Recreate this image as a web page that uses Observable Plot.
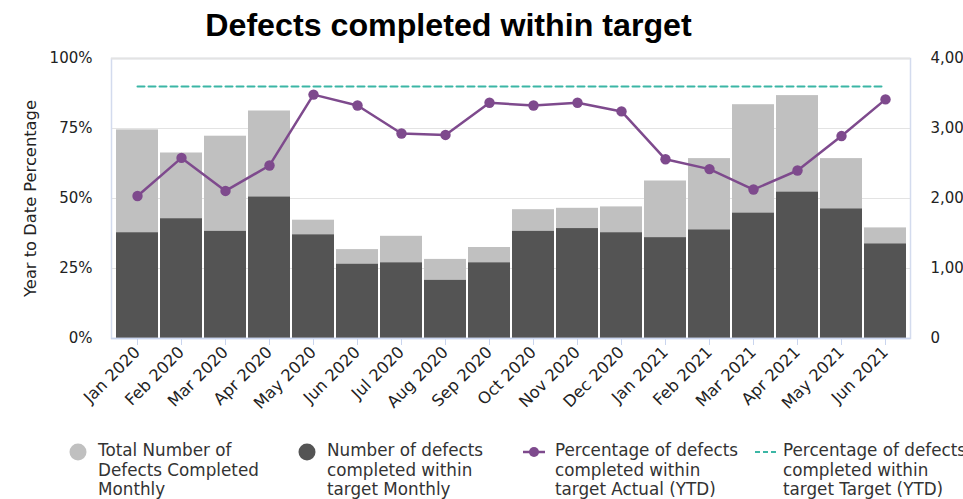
<!DOCTYPE html>
<html>
<head>
<meta charset="utf-8">
<script src="https://cdn.jsdelivr.net/npm/d3@7"></script>
<script src="https://cdn.jsdelivr.net/npm/@observablehq/plot@0.6"></script>
<style>
  html, body { margin: 0; padding: 0; background: #fff; }
  #wrap { position: relative; width: 963px; height: 499px; overflow: hidden; font-family: "DejaVu Sans", Verdana, sans-serif; }
  #title { position: absolute; left: 0; top: 5px; width: 897px; text-align: center; font: bold 32.2px "Liberation Sans", Arial, sans-serif; color: #000; line-height: 40px; }
  #chart { position: absolute; left: 0; top: 45px; }
  .leg { position: absolute; top: 441px; font-size: 16.8px; line-height: 19.5px; color: #333; white-space: nowrap; }
  .sym { position: absolute; }
</style>
</head>
<body>
<div id="wrap">
  <div id="title">Defects completed within target</div>
  <div id="chart"></div>
  <div id="legend"></div>
</div>
<script>
const months = ["Jan 2020","Feb 2020","Mar 2020","Apr 2020","May 2020","Jun 2020","Jul 2020","Aug 2020","Sep 2020","Oct 2020","Nov 2020","Dec 2020","Jan 2021","Feb 2021","Mar 2021","Apr 2021","May 2021","Jun 2021"];
const totalMonthly = [2980, 2650, 2890, 3250, 1690, 1270, 1460, 1130, 1300, 1840, 1860, 1880, 2250, 2570, 3340, 3470, 2570, 1580];
const withinTargetMonthly = [1510, 1710, 1530, 2020, 1480, 1060, 1080, 830, 1080, 1530, 1570, 1510, 1440, 1550, 1790, 2090, 1850, 1350];
const actualYTD = [50.9, 64.5, 52.7, 61.8, 87.1, 83.2, 73.2, 72.7, 84.2, 83.2, 84.2, 81.1, 64.0, 60.5, 53.2, 60.0, 72.3, 85.4];
const targetYTD = [90, 90, 90, 90, 90, 90, 90, 90, 90, 90, 90, 90, 90, 90, 90, 90, 90, 90];
const pctTicks = [0, 25, 50, 75, 100];
const countMax = 4000;
const yTitle = "Year to Date Percentage";

const seriesNames = ["Total Number of Defects Completed Monthly", "Number of defects completed within target Monthly", "Percentage of defects completed within target Actual (YTD)", "Percentage of defects completed within target Target (YTD)"];
const legendLines = [
  ["Total Number of", "Defects Completed", "Monthly"],
  ["Number of defects", "completed within", "target Monthly"],
  ["Percentage of defects", "completed within", "target Actual (YTD)"],
  ["Percentage of defects", "completed within", "target Target (YTD)"]
];
const colors = { total: "#c0c0c0", within: "#545454", actual: "#7e4a8d", target: "#3bb6a5" };

const data = months.map((m, i) => ({ month: m, total: totalMonthly[i], within: withinTargetMonthly[i], actual: actualYTD[i], target: targetYTD[i] }));
const toPct = v => v / countMax * 100;

const chart = Plot.plot({
  width: 963,
  height: 385,
  marginLeft: 111,
  marginRight: 53,
  marginTop: 13,
  marginBottom: 92,
  style: { fontFamily: "DejaVu Sans, Verdana, sans-serif", fontSize: "15px", color: "#222", background: "transparent" },
  x: { type: "band", domain: months, padding: 0.05 },
  y: { domain: [0, 100] },
  marks: [
    Plot.gridY(pctTicks.filter(t => t > 0 && t < 100), { stroke: "#e3e3e3", strokeOpacity: 1, strokeWidth: 1.2 }),
    Plot.barY(data, { x: "month", y: d => toPct(d.total), fill: colors.total }),
    Plot.barY(data, { x: "month", y: d => toPct(d.within), fill: colors.within }),
    Plot.frame({ stroke: "#d3dbee", strokeWidth: 1.5 }),
    Plot.ruleY([100], { stroke: "#e3e3e3", strokeWidth: 2 }),
    Plot.lineY(data, { x: "month", y: "target", stroke: colors.target, strokeWidth: 2, strokeDasharray: "7,4" }),
    Plot.lineY(data, { x: "month", y: "actual", stroke: colors.actual, strokeWidth: 2.5 }),
    Plot.dot(data, { x: "month", y: "actual", fill: colors.actual, r: 5.2 }),
    Plot.axisY(pctTicks, { anchor: "left", tickSize: 0, tickPadding: 19, tickFormat: d => d + "%", label: null, fill: "#222", fontSize: 15 }),
    Plot.text([yTitle], { frameAnchor: "left", rotate: -90, textAnchor: "middle", lineAnchor: "middle", dx: -81, fontSize: 16.3, fill: "#222" }),
    Plot.axisY(pctTicks, { anchor: "right", tickSize: 0, tickPadding: 20, tickFormat: d => d3.format(",")(d / 100 * countMax), label: null, fill: "#222", fontSize: 15 }),
    Plot.axisX({ anchor: "bottom", tickSize: 7, tickPadding: 4, tickRotate: -45, stroke: "#c9d5ef", fill: "#222", label: null, fontSize: 16.3 }),
    Plot.ruleY([0], { stroke: "#c9d5ef", strokeWidth: 1.5 })
  ]
});
document.getElementById("chart").appendChild(chart);

// Legend
const legend = document.getElementById("legend");
const legX = [98, 327, 555, 783];
legendLines.forEach((lines, i) => {
  const div = document.createElement("div");
  div.className = "leg";
  div.style.left = legX[i] + "px";
  div.title = seriesNames[i];
  div.innerHTML = lines.join("<br>");
  legend.appendChild(div);
});
const ns = "http://www.w3.org/2000/svg";
function sym(x, build) {
  const s = document.createElementNS(ns, "svg");
  s.setAttribute("width", 26); s.setAttribute("height", 20);
  s.setAttribute("class", "sym");
  s.style.left = x + "px"; s.style.top = "442px";
  s.innerHTML = build;
  legend.appendChild(s);
}
sym(65, `<circle cx="13" cy="10" r="8.5" fill="${colors.total}"/>`);
sym(294, `<circle cx="13" cy="10" r="8.5" fill="${colors.within}"/>`);
sym(521, `<line x1="2" x2="24" y1="10" y2="10" stroke="${colors.actual}" stroke-width="2.5"/><circle cx="13" cy="10" r="5" fill="${colors.actual}"/>`);
sym(753, `<line x1="2" x2="24" y1="10" y2="10" stroke="${colors.target}" stroke-width="2" stroke-dasharray="5,3"/>`);
</script>
</body>
</html>
